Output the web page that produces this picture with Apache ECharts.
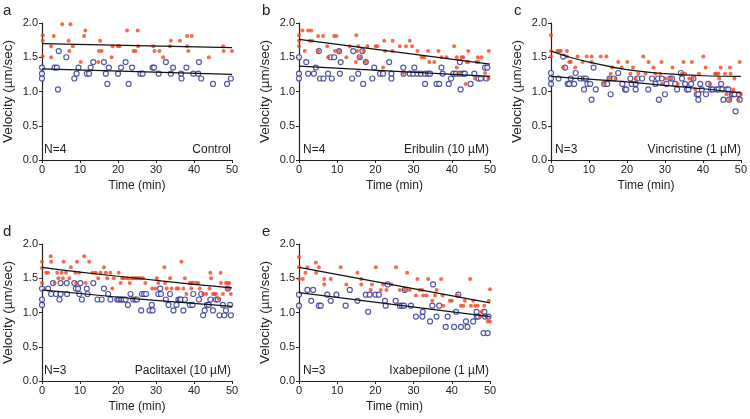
<!DOCTYPE html>
<html><head><meta charset="utf-8">
<script src="https://cdn.jsdelivr.net/npm/echarts@6/dist/echarts.min.js"></script>
<style>html,body{margin:0;padding:0;background:#fff}#c{width:750px;height:419px}</style>
</head><body><div id="c"></div>
<script>
// ---- data (time min, velocity µm/sec) ----
const panelLetters = ['a','b','c','d','e'];
const panelN = ['N=4','N=4','N=3','N=3','N=3'];
const panelNames = ['Control','Eribulin (10 \u00b5M)','Vincristine (1 \u00b5M)','Paclitaxel (10 \u00b5M)','Ixabepilone (1 \u00b5M)'];
const xTicks = [0,10,20,30,40,50];
const yTicks = [0.0,0.5,1.0,1.5,2.0];

const aRed = [[0.2,1.82],[0.2,1.74],[0.2,1.51],[2.4,1.66],[2.4,1.50],[3.1,1.81],[5.3,1.98],[7.5,1.98],[7.0,1.74],[7.2,1.59],[8.1,1.66],[10.2,1.43],[11.1,1.81],[11.4,1.89],[14.8,1.43],[15.3,1.74],[15.0,1.59],[15.7,1.59],[18.3,1.50],[18.6,1.66],[20.0,1.66],[20.4,1.66],[22.4,1.89],[24.1,1.59],[24.6,1.59],[25.2,1.89],[25.3,1.66],[29.3,1.66],[29.6,1.59],[30.9,1.59],[31.9,1.50],[33.7,1.66],[33.9,1.74],[36.3,1.74],[38.2,1.81],[39.4,1.81],[38.2,1.66],[38.5,1.59],[43.9,1.50],[47.7,1.66],[47.8,1.59],[50.0,1.59]];
const aBlue = [[0,1.35],[0,1.26],[0,1.19],[3.3,1.35],[3.9,1.35],[4.2,1.03],[4.4,1.59],[6.4,1.50],[8.5,1.19],[9.1,1.26],[9.6,1.35],[11.8,1.26],[12.4,1.26],[12.8,1.35],[13.5,1.43],[16.3,1.43],[16.8,1.26],[17.2,1.11],[17.6,1.35],[20.0,1.26],[20.8,1.35],[22.0,1.43],[22.8,1.11],[23.7,1.35],[25.9,1.26],[26.5,1.26],[29.1,1.35],[29.5,1.35],[30.7,1.26],[32.6,1.43],[33.9,1.26],[34.5,1.35],[36.6,1.26],[36.7,1.19],[38.0,1.35],[39.8,1.26],[41.1,1.26],[41.3,1.43],[41.9,1.19],[45.0,1.11],[48.7,1.11],[49.7,1.19]];
const aRedFit = [[0,1.70],[50,1.64]];
const aBlueFit = [[0,1.33],[50,1.25]];

const bRed = [[0,1.82],[0,1.74],[0,1.66],[0.9,1.89],[2.4,1.89],[3.2,1.89],[1.5,1.59],[2.8,1.74],[3.4,1.74],[5.0,1.81],[6.3,1.81],[5.0,1.59],[7.4,1.66],[7.6,1.50],[9.2,1.81],[9.8,1.81],[9.4,1.59],[10.5,1.59],[12.4,1.50],[13.3,1.66],[15.0,1.82],[14.9,1.43],[15.5,1.66],[15.2,1.59],[16.0,1.50],[16.9,1.59],[17.5,1.43],[17.9,1.66],[20.1,1.66],[20.5,1.66],[22.0,1.35],[22.3,1.74],[22.5,1.59],[24.5,1.74],[24.5,1.59],[26.4,1.66],[27.3,1.27],[28.0,1.66],[29.0,1.74],[29.6,1.66],[31.0,1.59],[32.1,1.50],[32.8,1.50],[34.1,1.43],[33.8,1.59],[35.4,1.43],[36.5,1.59],[37.3,1.50],[38.6,1.50],[40.6,1.66],[41.3,1.35],[41.3,1.50],[41.7,1.27],[42.6,1.50],[43.0,1.50],[44.3,1.59],[43.9,1.43],[44.3,1.43],[46.5,1.43],[46.9,1.43],[46.8,1.50],[47.8,1.50],[46.1,1.19],[43.6,1.11],[49.7,1.59],[48.7,1.27],[49.6,1.19]];
const bBlue = [[0,1.50],[0,1.26],[0,1.19],[1.9,1.43],[2.4,1.26],[3.9,1.26],[4.4,1.35],[5.2,1.59],[5.5,1.19],[6.4,1.19],[7.6,1.26],[8.3,1.50],[8.6,1.19],[9.2,1.50],[10.5,1.59],[10.7,1.26],[10.9,1.43],[13.9,1.19],[14.2,1.59],[15.5,1.26],[15.9,1.50],[16.6,1.59],[16.8,1.11],[17.5,1.43],[19.2,1.19],[19.7,1.35],[21.2,1.26],[22.0,1.26],[23.6,1.43],[24.2,1.26],[24.2,1.19],[27.3,1.35],[27.4,1.26],[29.0,1.26],[29.9,1.26],[30.2,1.35],[31.0,1.26],[31.9,1.26],[33.0,1.26],[33.8,1.26],[34.3,1.26],[33.0,1.11],[36.0,1.11],[36.7,1.11],[37.3,1.35],[37.6,1.26],[39.2,1.11],[39.8,1.19],[40.4,1.26],[41.1,1.26],[42.1,1.43],[42.1,1.26],[43.0,1.26],[43.4,1.26],[42.3,1.03],[44.9,1.11],[45.9,1.26],[47.0,1.19],[47.6,1.19],[48.7,1.35],[49.3,1.35],[49.0,1.19]];
const bRedFit = [[0,1.76],[50,1.40]];
const bBlueFit = [[0,1.37],[50,1.22]];

const cRed = [[0,1.82],[0,1.59],[0,1.51],[1.7,1.59],[2.2,1.59],[2.6,1.59],[3.2,1.35],[4.2,1.59],[4.2,1.51],[4.8,1.43],[5.2,1.43],[6.4,1.35],[7.0,1.51],[8.3,1.43],[9.4,1.51],[10.7,1.51],[10.7,1.43],[13.1,1.51],[14.6,1.51],[14.0,1.12],[15.3,1.19],[15.7,1.26],[16.1,1.35],[17.0,1.19],[17.7,1.43],[18.6,1.35],[20.1,1.43],[20.9,1.26],[21.6,1.35],[22.3,1.19],[23.0,1.26],[24.3,1.51],[24.9,1.26],[25.7,1.43],[27.0,1.35],[27.5,1.26],[28.8,1.26],[29.1,1.43],[29.2,1.11],[30.1,1.19],[31.7,1.19],[32.0,1.35],[33.4,1.11],[34.9,1.43],[34.5,1.26],[35.3,1.26],[36.4,1.19],[37.1,1.43],[37.3,1.19],[38.0,1.03],[39.0,1.26],[40.1,1.51],[40.7,1.35],[41.9,1.11],[43.2,1.26],[43.6,1.26],[44.1,1.26],[44.3,1.19],[44.7,1.35],[45.8,1.26],[46.2,0.96],[47.1,1.35],[47.3,1.26],[48.0,1.03],[48.3,1.19],[49.3,0.88],[47.1,0.88],[49.7,1.43],[50.0,0.96]];
const cBlue = [[0,1.27],[0,1.19],[0,1.11],[2.0,1.19],[3.2,1.51],[3.7,1.35],[4.4,1.11],[4.8,1.11],[5.2,1.19],[6.1,1.11],[6.5,1.27],[7.7,1.19],[8.7,1.19],[9.2,1.19],[8.7,1.03],[9.6,1.11],[10.3,1.11],[10.7,0.88],[11.2,1.35],[11.8,1.03],[14.0,1.11],[14.8,1.11],[15.4,1.19],[15.7,0.96],[16.6,1.19],[17.7,1.27],[18.8,1.11],[19.5,1.03],[19.8,1.03],[20.9,1.19],[21.2,1.11],[22.3,1.11],[22.3,1.03],[22.7,1.19],[24.0,1.19],[25.6,1.03],[26.6,1.19],[27.5,1.11],[28.2,1.19],[29.2,1.19],[28.4,0.88],[30.0,0.96],[30.4,1.11],[31.4,1.19],[31.9,1.19],[32.7,1.11],[33.2,1.03],[34.2,1.27],[34.5,1.19],[35.3,1.11],[35.8,1.03],[36.2,1.03],[36.9,1.11],[37.5,1.19],[38.4,0.96],[38.8,0.96],[38.8,0.88],[39.3,1.11],[39.7,1.03],[40.8,0.96],[41.4,1.11],[42.1,1.03],[42.6,1.03],[43.6,1.03],[44.1,1.03],[44.8,1.11],[45.1,1.03],[45.4,0.88],[46.2,1.03],[46.7,1.03],[46.9,0.88],[47.6,0.96],[48.0,0.96],[48.4,0.96],[48.6,0.71],[49.5,0.96],[49.7,0.88]];
const cRedFit = [[0,1.59],[5,1.50],[10,1.43],[20,1.32],[30,1.26],[40,1.23],[50,1.22]];
const cBlueFit = [[0,1.22],[10,1.18],[20,1.14],[30,1.09],[40,1.04],[50,0.98]];

const dRed = [[0,1.74],[0,1.65],[0,1.43],[1.1,1.58],[1.6,1.58],[2.3,1.82],[2.4,1.74],[3.3,1.43],[4.0,1.58],[4.3,1.50],[5.2,1.58],[5.7,1.74],[5.5,1.50],[6.3,1.58],[7.2,1.50],[7.6,1.66],[8.8,1.58],[9.0,1.43],[9.2,1.74],[9.8,1.58],[11.1,1.82],[11.5,1.43],[12.4,1.74],[13.3,1.58],[14.1,1.58],[14.8,1.50],[15.4,1.58],[16.3,1.66],[16.8,1.58],[17.2,1.50],[18.0,1.58],[18.5,1.35],[18.9,1.50],[20.2,1.58],[20.7,1.43],[21.1,1.50],[21.5,1.50],[22.3,1.50],[22.8,1.50],[23.1,1.43],[23.6,1.50],[24.0,1.50],[24.5,1.50],[24.9,1.50],[25.3,1.50],[25.7,1.50],[26.2,1.50],[26.6,1.50],[27.2,1.43],[29.0,1.35],[29.8,1.35],[30.2,1.50],[30.6,1.43],[32.2,1.66],[32.4,1.43],[32.8,1.35],[33.7,1.50],[34.1,1.35],[35.4,1.35],[35.9,1.35],[36.7,1.74],[37.2,1.35],[37.6,1.50],[38.0,1.27],[38.9,1.43],[39.3,1.43],[39.8,1.43],[39.3,1.35],[40.6,1.43],[41.1,1.43],[41.5,1.35],[42.4,1.27],[43.2,1.27],[44.3,1.58],[44.5,1.50],[44.1,1.35],[45.0,1.27],[45.4,1.27],[45.8,1.27],[47.0,1.58],[47.1,1.43],[46.5,1.20],[47.6,1.27],[48.4,1.43],[48.9,1.43],[49.3,1.43],[48.9,1.35],[49.7,1.27]];
const dBlue = [[0,1.35],[0,1.19],[0,1.11],[1.6,1.35],[2.9,1.43],[2.4,1.27],[3.7,1.27],[4.9,1.43],[4.6,1.19],[4.9,1.27],[6.5,1.43],[6.6,1.27],[8.9,1.35],[9.5,1.35],[8.5,1.43],[10.1,1.43],[9.8,1.27],[10.5,1.19],[11.8,1.35],[12.0,1.27],[13.5,1.43],[14.6,1.19],[15.7,1.19],[16.3,1.35],[17.4,1.27],[18.0,1.19],[19.8,1.19],[20.2,1.19],[20.7,1.19],[21.1,1.19],[21.5,1.19],[22.0,1.19],[22.6,1.11],[23.3,1.27],[24.0,1.19],[24.6,1.19],[25.0,1.19],[26.3,1.27],[26.9,1.27],[27.4,1.27],[26.1,1.03],[28.3,1.03],[29.1,1.03],[28.9,1.11],[30.6,1.27],[31.3,1.27],[31.1,1.35],[32.6,1.19],[33.3,1.11],[33.7,1.27],[34.6,1.03],[35.4,1.11],[35.9,1.19],[36.3,1.19],[36.6,1.19],[37.2,1.03],[37.6,1.19],[38.9,1.11],[39.6,1.11],[39.8,1.27],[41.3,1.19],[41.9,1.27],[42.4,0.96],[42.8,1.03],[43.4,1.11],[43.9,1.11],[44.3,1.19],[45.0,1.03],[45.8,1.19],[46.3,1.19],[46.7,0.96],[47.6,1.11],[48.0,0.96],[48.4,1.03],[48.9,1.35],[49.5,1.11],[49.7,0.96]];
const dRedFit = [[0,1.66],[10,1.59],[25,1.50],[40,1.41],[50,1.36]];
const dBlueFit = [[0,1.33],[25,1.20],[50,1.09]];

const eRed = [[0,1.81],[0,1.66],[0,1.49],[1.0,1.49],[1.7,1.58],[2.2,1.66],[4.4,1.73],[4.5,1.58],[5.2,1.66],[6.6,1.49],[6.6,1.41],[8.3,1.49],[10.9,1.66],[12.4,1.41],[15.3,1.58],[16.3,1.49],[16.3,1.41],[18.8,1.33],[19.1,1.41],[20.1,1.66],[21.4,1.33],[22.0,1.41],[22.9,1.33],[24.2,1.41],[25.4,1.66],[26.4,1.33],[27.7,1.33],[28.3,1.58],[29.0,1.33],[30.6,1.25],[31.0,1.49],[31.6,1.33],[32.3,1.33],[32.5,1.25],[33.4,1.25],[33.8,1.49],[34.9,1.17],[35.6,1.25],[36.0,1.33],[37.2,1.49],[37.6,1.25],[37.8,1.10],[39.5,1.17],[40.0,1.17],[41.5,1.25],[42.4,1.10],[43.0,1.10],[43.4,1.17],[44.8,1.49],[45.0,1.10],[45.6,1.17],[46.1,1.10],[46.8,1.10],[47.4,0.94],[47.8,1.01],[48.5,1.10],[49.1,0.94],[49.4,0.87],[49.7,1.17],[50.0,1.34],[50.0,0.87]];
const eBlue = [[0,1.26],[0,1.10],[2.2,1.33],[3.7,1.33],[3.2,1.17],[5.2,1.10],[5.7,1.10],[7.4,1.26],[8.3,1.17],[9.8,1.26],[12.2,1.10],[13.3,1.33],[15.3,1.17],[17.5,1.26],[18.5,1.26],[18.1,1.01],[20.0,1.26],[20.9,1.26],[22.5,1.17],[22.7,1.10],[23.2,1.41],[25.3,1.17],[26.4,1.10],[27.0,1.10],[27.5,1.10],[29.3,1.10],[27.7,1.33],[30.6,0.94],[32.3,0.94],[32.4,1.01],[34.3,0.87],[35.1,1.41],[34.9,1.10],[36.0,0.94],[36.7,1.10],[38.4,0.79],[38.9,0.94],[40.6,0.79],[41.1,1.01],[41.7,1.26],[42.4,0.79],[44.1,0.79],[43.7,0.87],[45.6,0.87],[46.5,0.94],[46.9,0.94],[46.5,1.01],[48.3,0.70],[48.5,1.01],[48.7,0.94],[49.4,0.70],[49.6,0.94]];
const eRedFit = [[0,1.66],[50,1.14]];
const eBlueFit = [[0,1.29],[50,0.94]];

const redSets = [aRed,bRed,cRed,dRed,eRed];
const blueSets = [aBlue,bBlue,cBlue,dBlue,eBlue];
const redFits = [aRedFit,bRedFit,cRedFit,dRedFit,eRedFit];
const blueFits = [aBlueFit,bBlueFit,cBlueFit,dBlueFit,eBlueFit];

// ---- layout ----
const grids = [
  {left:40, top:23, width:192, height:137},
  {left:299, top:23, width:191, height:137},
  {left:551, top:23, width:191, height:137},
  {left:40, top:244, width:192, height:137},
  {left:299, top:244, width:191, height:137}
];
const FONT = 'Liberation Sans, Arial, sans-serif';
const RED = '#f2461f', BLUE = '#28318f', TXT = '#222';

const option = {
  animation:false,
  backgroundColor:'#fff',
  grid: grids.map(g=>Object.assign({containLabel:false}, g)),
  xAxis: grids.map((g,i)=>({
    gridIndex:i, type:'value', min:0, max:50, interval:10,
    name:'Time (min)', nameLocation:'middle', nameGap:20,
    nameTextStyle:{fontFamily:FONT,fontSize:12,color:TXT},
    axisLine:{onZero:false,lineStyle:{color:'#222',width:1.2}},
    axisTick:{length:3,lineStyle:{color:'#222'}},
    axisLabel:{fontFamily:FONT,fontSize:11,color:TXT,margin:4,
      formatter:v=>xTicks.includes(v)?String(v):''},
    splitLine:{show:false}
  })),
  yAxis: grids.map((g,i)=>({
    gridIndex:i, type:'value', min:0, max:2, interval:0.5,
    name:'Velocity (\u00b5m/sec)', nameLocation:'middle', nameGap:27,
    nameTextStyle:{fontFamily:FONT,fontSize:13.5,color:TXT},
    axisLine:{show:true,lineStyle:{color:'#222',width:1.2}},
    axisTick:{show:true,length:3,lineStyle:{color:'#222'}},
    axisLabel:{fontFamily:FONT,fontSize:11,color:TXT,margin:4,
      formatter:v=>yTicks.includes(v)?v.toFixed(1):''},
    splitLine:{show:false}
  })),
  title: [].concat(
    grids.map((g,i)=>({text:panelLetters[i], left:g.left-37, top:g.top-20, padding:0,
      textStyle:{fontFamily:FONT,fontSize:15,fontWeight:'normal',color:TXT}})),
    grids.map((g,i)=>({text:panelN[i], left:g.left+4, top:g.top+g.height-16,
      textStyle:{fontFamily:FONT,fontSize:12,fontWeight:'normal',color:TXT}, padding:0})),
    grids.map((g,i)=>({text:panelNames[i], right:750-(g.left+g.width)+1, top:g.top+g.height-16,
      textStyle:{fontFamily:FONT,fontSize:12,fontWeight:'normal',color:TXT}, padding:0}))
  ),
  series: [].concat(
    blueSets.map((d,i)=>({type:'scatter', xAxisIndex:i, yAxisIndex:i, data:d,
      symbol:'circle', symbolSize:5, itemStyle:{color:'#fff', borderColor:BLUE, borderWidth:1.2}})),
    redSets.map((d,i)=>({type:'scatter', xAxisIndex:i, yAxisIndex:i, data:d,
      symbol:'circle', symbolSize:4, itemStyle:{color:RED}})),
    redFits.map((d,i)=>({type:'line', xAxisIndex:i, yAxisIndex:i, data:d, smooth:0.4,
      symbol:'none', lineStyle:{color:'#111',width:1.2}})),
    blueFits.map((d,i)=>({type:'line', xAxisIndex:i, yAxisIndex:i, data:d, smooth:0.4,
      symbol:'none', lineStyle:{color:'#111',width:1.2}}))
  )
};
const chart = echarts.init(document.getElementById('c'), null, {renderer:'canvas'});
chart.setOption(option);
</script></body></html>
